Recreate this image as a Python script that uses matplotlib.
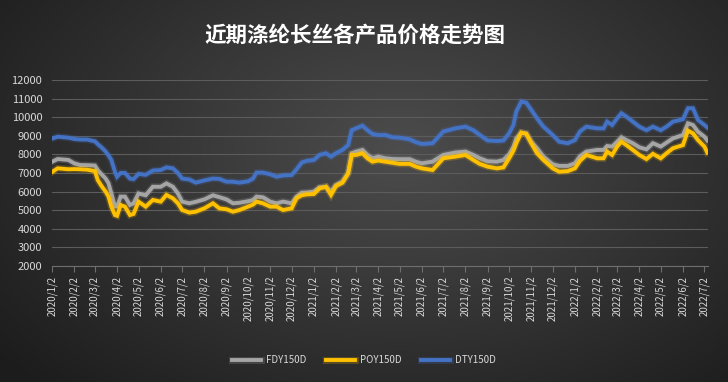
import numpy as np
import pandas as pd
import matplotlib
matplotlib.use('Agg')
import matplotlib.pyplot as plt
import matplotlib.dates as mdates
import matplotlib.patheffects as pe

plt.rcParams['font.family'] = ['Noto Sans CJK SC', 'DejaVu Sans']

# dates and price values (yuan/ton)
dates = [
    '2020-01-02', '2020-01-10', '2020-01-25', '2020-02-02', '2020-02-10', '2020-02-20',
    '2020-03-02', '2020-03-06', '2020-03-12', '2020-03-17', '2020-03-21', '2020-03-25',
    '2020-03-30', '2020-04-02', '2020-04-07', '2020-04-13', '2020-04-20', '2020-04-25',
    '2020-05-02', '2020-05-12', '2020-05-22', '2020-06-02', '2020-06-10', '2020-06-19',
    '2020-06-26', '2020-07-02', '2020-07-12', '2020-07-21', '2020-08-02', '2020-08-14',
    '2020-08-23', '2020-09-02', '2020-09-11', '2020-09-20', '2020-10-02', '2020-10-09',
    '2020-10-14', '2020-10-23', '2020-11-02', '2020-11-11', '2020-11-20', '2020-12-02',
    '2020-12-09', '2020-12-16', '2020-12-23',
    '2021-01-02', '2021-01-10', '2021-01-19', '2021-01-26', '2021-02-02', '2021-02-11',
    '2021-02-19', '2021-02-24', '2021-03-02', '2021-03-11', '2021-03-18', '2021-03-25',
    '2021-04-02', '2021-04-12', '2021-04-22', '2021-05-02', '2021-05-16', '2021-05-25',
    '2021-06-02', '2021-06-17', '2021-07-02', '2021-07-19', '2021-08-02', '2021-08-13',
    '2021-08-22', '2021-09-02', '2021-09-15', '2021-09-24', '2021-10-02', '2021-10-08',
    '2021-10-12', '2021-10-19', '2021-10-26', '2021-11-02', '2021-11-10', '2021-11-19',
    '2021-12-02', '2021-12-11', '2021-12-23',
    '2022-01-02', '2022-01-09', '2022-01-18', '2022-02-02', '2022-02-11', '2022-02-16',
    '2022-02-23', '2022-03-02', '2022-03-08', '2022-03-15', '2022-03-24', '2022-04-02',
    '2022-04-12', '2022-04-21', '2022-05-02', '2022-05-10', '2022-05-19', '2022-06-02',
    '2022-06-09', '2022-06-16', '2022-06-23', '2022-07-02', '2022-07-06',
]
dty = [
    8850, 8950, 8900, 8830, 8800, 8800,
    8700, 8550, 8350, 8150, 7950, 7700,
    7070, 6800, 7000, 7000, 6700, 6670,
    6950, 6900, 7130, 7160, 7300, 7250,
    7000, 6700, 6650, 6480, 6600, 6700,
    6680, 6530, 6530, 6480, 6550, 6700,
    7020, 7020, 6930, 6800, 6870, 6890,
    7200, 7560, 7650,
    7700, 7970, 8060, 7880, 8060, 8240,
    8500, 9300, 9400, 9540, 9300, 9100,
    9040, 9040, 8920, 8900, 8810, 8650,
    8560, 8600, 9230, 9400, 9490, 9300,
    9040, 8750, 8720, 8750, 9130, 9580,
    10300, 10840, 10780, 10390, 9940, 9490,
    9040, 8680, 8600,
    8770, 9230, 9490, 9400, 9400, 9760,
    9580, 9940, 10210, 10030, 9760, 9490,
    9300, 9490, 9300, 9490, 9760, 9890,
    10480, 10480, 9850, 9580, 9450,
]
fdy = [
    7600, 7750, 7700, 7520, 7430, 7420,
    7400, 7150, 6900, 6700, 6450, 5900,
    5200, 5200, 5730, 5730, 5280, 5370,
    5900, 5800, 6260, 6260, 6440, 6260,
    5900, 5460, 5370, 5450, 5580, 5800,
    5700, 5580, 5370, 5400, 5480, 5550,
    5730, 5690, 5460, 5370, 5460, 5370,
    5730, 5940, 5950,
    6000, 6230, 6260, 6000, 6350, 6530,
    6980, 8060, 8150, 8240, 7970, 7790,
    7880, 7790, 7750, 7740, 7740, 7600,
    7520, 7610, 7970, 8100, 8150, 7970,
    7790, 7630, 7610, 7700, 8000, 8400,
    8860, 9170, 9130, 8680, 8330, 7880,
    7470, 7380, 7380,
    7520, 7900, 8150, 8240, 8240, 8450,
    8420, 8680, 8920, 8770, 8600, 8380,
    8270, 8600, 8420, 8630, 8860, 9040,
    9670, 9580, 9220, 8950, 8750,
]
poy = [
    7050, 7250, 7200, 7210, 7200, 7180,
    7100, 6620, 6260, 6000, 5730, 5190,
    4740, 4700, 5280, 5190, 4740, 4800,
    5460, 5190, 5550, 5460, 5820, 5640,
    5370, 5010, 4870, 4920, 5100, 5370,
    5100, 5050, 4920, 5010, 5190, 5300,
    5460, 5370, 5190, 5190, 5010, 5100,
    5650, 5800, 5850,
    5870, 6170, 6260, 5820, 6300, 6480,
    6980, 7970, 7970, 8060, 7790, 7610,
    7670, 7610, 7550, 7490, 7490, 7340,
    7250, 7160, 7790, 7880, 7970, 7700,
    7490, 7340, 7250, 7300, 7790, 8200,
    8600, 9170, 9100, 8600, 8060, 7700,
    7250, 7070, 7100,
    7250, 7650, 7970, 7790, 7790, 8150,
    7970, 8420, 8680, 8500, 8240, 7970,
    7750, 8030, 7790, 8060, 8330, 8500,
    9280, 9130, 8770, 8420, 8100,
]
series_names = ['FDY150D', 'POY150D', 'DTY150D']
series_colors = ['#a5a5a5', '#ffc000', '#4472c4']

x = pd.to_datetime(dates)

fig = plt.figure(figsize=(7.28, 3.82), dpi=100)

# radial grey background
bg = fig.add_axes([0, 0, 1, 1])
yy, xx = np.mgrid[0:382, 0:728]
r = np.sqrt(((xx - 400) / 520.0) ** 2 + ((yy - 150) / 330.0) ** 2)
shade = np.clip(0.30 - 0.19 * r, 0.11, 0.30)
bg.imshow(np.dstack([shade, shade, shade]), aspect='auto', extent=[0, 1, 0, 1])
bg.set_axis_off()

ax = fig.add_axes([0.0714, 0.3037, 0.9011, 0.4869])
ax.patch.set_alpha(0)

for vals, name, col in zip([fdy, poy, dty], series_names, series_colors):
    ax.plot(x, vals, color=col, lw=2.8, label=name, solid_joinstyle='miter',
            path_effects=[pe.Stroke(linewidth=5, foreground=col, alpha=0.22), pe.Normal()])

ax.set_ylim(2000, 12000)
ax.set_yticks(range(2000, 12001, 1000))
ax.set_xlim(pd.Timestamp('2020-01-02'), pd.Timestamp('2022-07-07'))
ax.xaxis.set_major_locator(mdates.MonthLocator(bymonthday=2))
ax.xaxis.set_major_formatter(plt.FuncFormatter(
    lambda v, p: '{0.year}/{0.month}/{0.day}'.format(mdates.num2date(v))))
plt.setp(ax.get_xticklabels(), rotation=90)

ax.grid(axis='y', color='#5c5c5c', lw=0.8)
ax.set_axisbelow(True)
for s in ['top', 'right', 'left']:
    ax.spines[s].set_visible(False)
ax.spines['bottom'].set_color('#6e6e6e')
ax.tick_params(axis='y', length=0, colors='#d9d9d9', labelsize=8, pad=7)
ax.tick_params(axis='x', length=4, color='#6e6e6e', colors='#d9d9d9', labelsize=7, pad=3)
for lab in ax.get_xticklabels() + ax.get_yticklabels():
    lab.set_color('#d9d9d9')

fig.text(0.488, 0.908, '近期涤纶长丝各产品价格走势图', ha='center', va='center',
         color='white', fontsize=15.5, fontweight='bold')

leg = fig.legend(loc='center', bbox_to_anchor=(0.5, 0.057), ncol=3, frameon=False,
                 fontsize=7, handlelength=3, columnspacing=2, handletextpad=0.5)
for t in leg.get_texts():
    t.set_color('#d9d9d9')

fig.savefig('out.png', dpi=100)
